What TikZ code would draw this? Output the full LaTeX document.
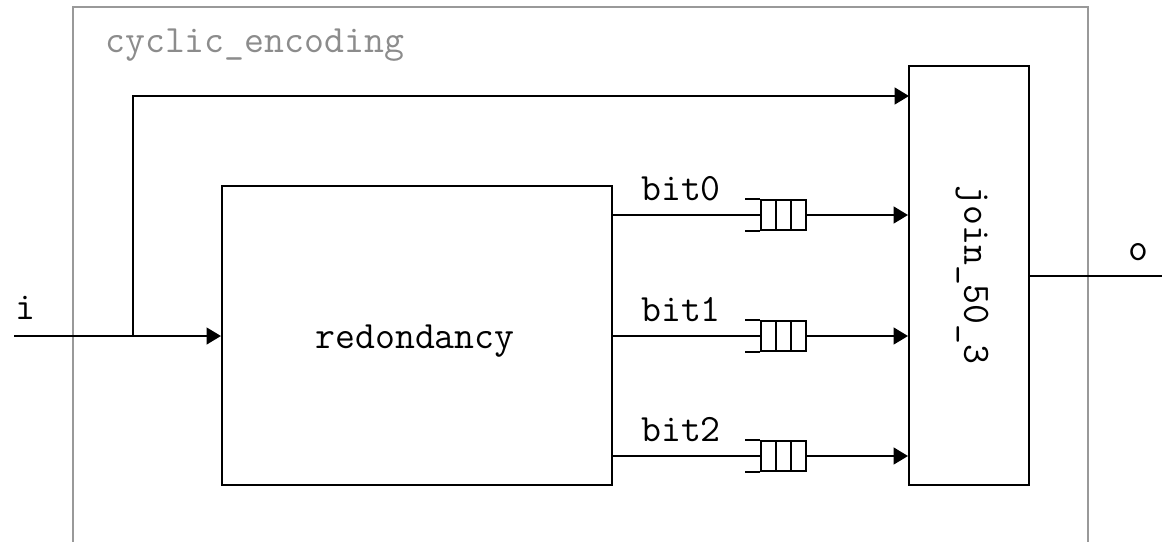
\documentclass[tikz,border=0pt]{standalone}
\usetikzlibrary{arrows.meta,calc}
\begin{document}
\begin{tikzpicture}[x=0.025cm,y=-0.025cm,
  every node/.style={font=\fontsize{27.5}{33}\selectfont\ttfamily},
  wire/.style={line width=1.4pt},
  arr/.style={wire,-{Triangle[length=0.36cm,width=0.42cm]}},
  blk/.style={draw,line width=1.4pt,rectangle,inner sep=0pt},
  queue/.style={draw,line width=1.2pt,fill=white,rectangle,inner sep=0pt,minimum width=1.125cm,minimum height=0.75cm},
  lbl/.style={inner sep=0pt,anchor=base}]
\useasboundingbox (0,0) rectangle (1162,541);
\clip (0,0) rectangle (1162,541);
% outer frame
\draw[line width=1.2pt,color=black!40] (73,560) -- (73,7) -- (1088,7) -- (1088,560);
\node[lbl,anchor=base west,text=black!45] (title) at (105,52) {cyclic\_encoding};
% blocks
\node[blk,minimum width=9.75cm,minimum height=7.475cm] (red) at (417,335.5) {};
\node[lbl] (rlab) at (415,348) {redondancy};
\node[blk,minimum width=3cm,minimum height=10.475cm] (join) at (969,275.5) {};
\node[inner sep=0pt,rotate=-90] (jlab) at (972,275) {join\_50\_3};
% queues
\foreach \i/\y in {0/215,1/336,2/456}{
  \node[queue] (q\i) at (783.5,\y) {};
  \draw[line width=1.2pt] ($(q\i.north west)!1/3!(q\i.north east)$) -- ($(q\i.south west)!1/3!(q\i.south east)$);
  \draw[line width=1.2pt] ($(q\i.north west)!2/3!(q\i.north east)$) -- ($(q\i.south west)!2/3!(q\i.south east)$);
  \draw[line width=1.2pt] (q\i.north west) -- ++(-15,0);
  \draw[line width=1.2pt] (q\i.south west) -- ++(-15,0);
  \draw[wire] (q\i.west -| red.east) -- (q\i.west);
  \draw[arr] (q\i.east) -- (q\i.east -| join.west);
  \node[lbl] (b\i) at (681,\y-15) {bit\i};
}
% input
\coordinate (in) at (14,336);
\coordinate (br) at (133,336);
\coordinate (j0) at (909,96);
\node[lbl] (ilab) at (25,319) {i};
\draw[arr] (in) -- (in -| red.west);
\draw[arr] (br) |- (j0);
% output
\coordinate (out) at (1162,276);
\draw[wire] (join.east |- out) -- (out);
\node[lbl] (olab) at (1138,260) {o};
\end{tikzpicture}
\end{document}
